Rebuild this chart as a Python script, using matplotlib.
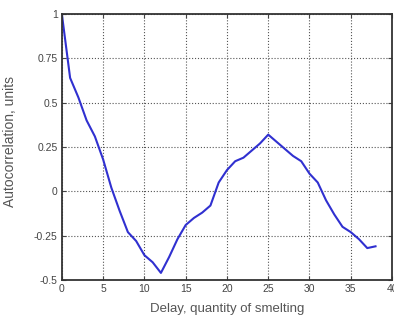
import matplotlib
matplotlib.use('Agg')
import matplotlib.pyplot as plt

# autocorrelation vs delay
delays = list(range(0, 39))
autocorr = [1.0, 0.64, 0.53, 0.40, 0.31, 0.18, 0.02, -0.11, -0.23, -0.28,
            -0.36, -0.40, -0.46, -0.37, -0.27, -0.19, -0.15, -0.12, -0.08, 0.05,
            0.12, 0.17, 0.19, 0.23, 0.27, 0.32, 0.28, 0.24, 0.20, 0.17,
            0.10, 0.05, -0.05, -0.13, -0.20, -0.23, -0.27, -0.32, -0.31]

xticks = [0, 5, 10, 15, 20, 25, 30, 35, 40]
yticks = [-0.5, -0.25, 0, 0.25, 0.5, 0.75, 1]
ylabels = ['-0.5', '-0.25', '0', '0.25', '0.5', '0.75', '1']

plt.rcParams['font.family'] = ['Liberation Sans', 'DejaVu Sans']

fig = plt.figure(figsize=(3.94, 3.2), dpi=100)
ax = fig.add_axes([0.157, 0.125, 0.838, 0.831])
ax.plot(delays, autocorr, color='#3030d0', linewidth=1.5)

ax.set_xlim(0, 40)
ax.set_ylim(-0.5, 1)
ax.set_xticks(xticks)
ax.set_yticks(yticks)
ax.set_yticklabels(ylabels)
ax.grid(True, linestyle=':', color='#555555', linewidth=0.8)
ax.tick_params(direction='in', top=True, right=True, labelsize=7.5,
               colors='#444444', length=3, pad=3)
for s in ax.spines.values():
    s.set_linewidth(1.3)
    s.set_color('#333333')

ax.set_xlabel('Delay, quantity of smelting', fontsize=9.5, color='#555555')
ax.set_ylabel('Autocorrelation, units', fontsize=10, color='#555555')
ax.xaxis.set_label_coords(0.5, -0.085)
ax.yaxis.set_label_coords(-0.135, 0.52)

fig.savefig('out.png', dpi=100)
